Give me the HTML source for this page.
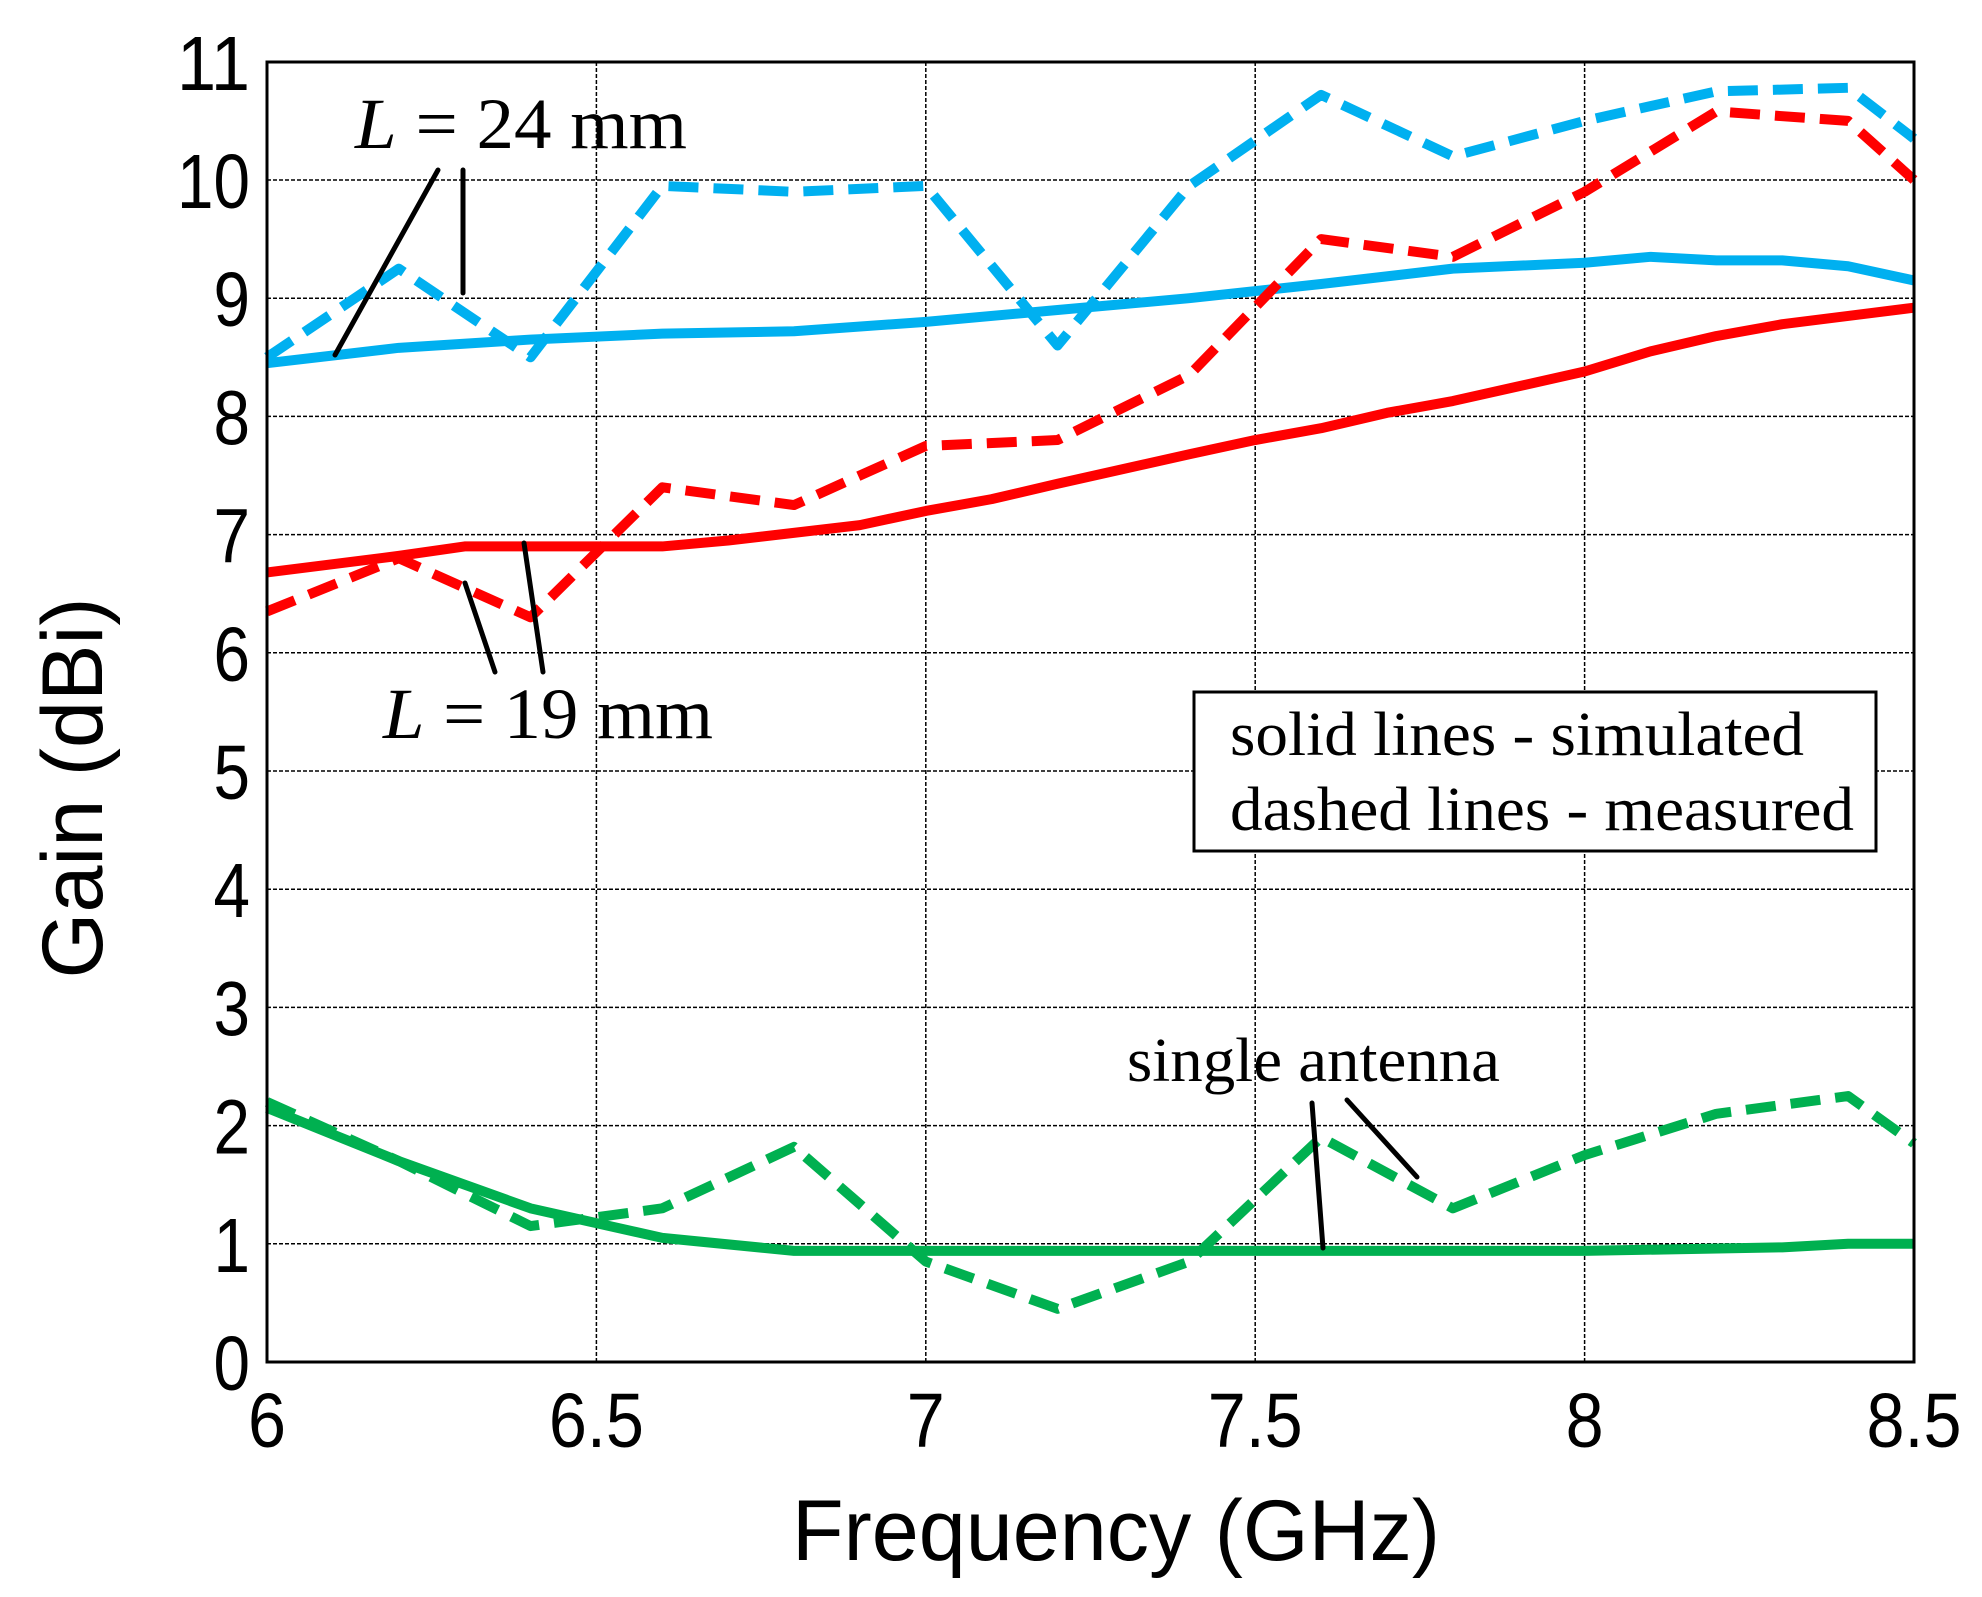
<!DOCTYPE html>
<html><head><meta charset="utf-8"><style>html,body{margin:0;padding:0;background:#fff}svg{display:block}</style></head>
<body>
<svg id="s" width="1982" height="1597" viewBox="0 0 1982 1597" xmlns="http://www.w3.org/2000/svg">
<rect width="1982" height="1597" fill="#fff"/>
<g id="grid" stroke="#000" stroke-width="1.5" stroke-dasharray="4,2"></g>
<g id="series" fill="none" stroke-linejoin="round"></g>
<rect x="267" y="62" width="1647" height="1300" fill="none" stroke="#000" stroke-width="3"/>
<g id="ticks" font-family="Liberation Sans, sans-serif" font-size="77" fill="#000"></g>
<text x="1116" y="1560" font-family="Liberation Sans, sans-serif" font-size="86" text-anchor="middle" textLength="648" lengthAdjust="spacingAndGlyphs">Frequency (GHz)</text>
<text transform="translate(102,788) rotate(-90)" font-family="Liberation Sans, sans-serif" font-size="86" text-anchor="middle" textLength="381" lengthAdjust="spacingAndGlyphs">Gain (dBi)</text>
<g font-family="Liberation Serif, serif" font-size="72" fill="#000">
<text x="355" y="148" textLength="332" lengthAdjust="spacingAndGlyphs"><tspan font-style="italic">L</tspan> = 24 mm</text>
<text x="383" y="738" textLength="330" lengthAdjust="spacingAndGlyphs"><tspan font-style="italic">L</tspan> = 19 mm</text>
<text x="1127" y="1081" font-size="62" textLength="373" lengthAdjust="spacingAndGlyphs">single antenna</text>
</g>
<rect x="1194" y="692" width="682" height="159" fill="#fff" stroke="#000" stroke-width="3"/>
<g font-family="Liberation Serif, serif" font-size="62">
<text x="1230" y="755" textLength="574" lengthAdjust="spacingAndGlyphs">solid lines - simulated</text>
<text x="1230" y="830" textLength="624" lengthAdjust="spacingAndGlyphs">dashed lines - measured</text>
</g>
<g stroke="#000" stroke-width="5" stroke-linecap="round">
<line x1="438" y1="170" x2="335" y2="355"/>
<line x1="463" y1="170" x2="463" y2="293"/>
<line x1="465" y1="583" x2="495" y2="672"/>
<line x1="524" y1="543" x2="543" y2="672"/>
<line x1="1312" y1="1103" x2="1323" y2="1248"/>
<line x1="1347" y1="1100" x2="1417" y2="1177"/>
</g>
</svg>
<script>
var X=function(f){return 267+(f-6)*658.8},Y=function(g){return 1362-g*118.2};
var ns="http://www.w3.org/2000/svg";
function el(p,t,a){var e=document.createElementNS(ns,t);for(var k in a)e.setAttribute(k,a[k]);p.appendChild(e);return e}
var grid=document.getElementById('grid'),tk=document.getElementById('ticks'),se=document.getElementById('series');
for(var g=1;g<=10;g++)el(grid,'line',{x1:267,x2:1914,y1:Y(g),y2:Y(g)});
for(var f=6.5;f<8.5;f+=0.5)el(grid,'line',{x1:X(f),x2:X(f),y1:62,y2:1362});
for(var g=0;g<=11;g++){var s=String(g);var t=el(tk,'text',{x:250,y:Y(g)+28,'text-anchor':'end',textLength:s.length*36.5,lengthAdjust:'spacingAndGlyphs'});t.textContent=s;}
['6','6.5','7','7.5','8','8.5'].forEach(function(s){var w=s.length==1?38:95;var t=el(tk,'text',{x:X(+s),y:1447,'text-anchor':'middle',textLength:w,lengthAdjust:'spacingAndGlyphs'});t.textContent=s;});
function S(d,c,dash){var p=d.map(function(q){return X(q[0])+','+Y(q[1])}).join(' ');var a={points:p,stroke:c,'stroke-width':10};if(dash)a['stroke-dasharray']='30,15';el(se,'polyline',a);}
S([[6,8.45],[6.2,8.58],[6.4,8.65],[6.6,8.7],[6.8,8.72],[7,8.8],[7.2,8.9],[7.4,9],[7.6,9.12],[7.8,9.25],[8,9.3],[8.1,9.35],[8.2,9.32],[8.3,9.32],[8.4,9.27],[8.5,9.15]],'#00B0F0');
S([[6,8.5],[6.2,9.25],[6.4,8.5],[6.6,9.95],[6.8,9.9],[7,9.95],[7.2,8.6],[7.4,9.95],[7.6,10.72],[7.8,10.2],[8,10.5],[8.2,10.75],[8.4,10.78],[8.5,10.35]],'#00B0F0',1);
S([[6,6.68],[6.2,6.82],[6.3,6.9],[6.6,6.9],[6.7,6.95],[6.9,7.08],[7,7.2],[7.1,7.3],[7.2,7.43],[7.4,7.68],[7.5,7.8],[7.6,7.9],[7.7,8.03],[7.8,8.13],[8,8.38],[8.1,8.55],[8.2,8.68],[8.3,8.78],[8.4,8.85],[8.5,8.92]],'#FF0000');
S([[6,6.35],[6.2,6.8],[6.4,6.3],[6.6,7.4],[6.8,7.25],[7,7.75],[7.2,7.8],[7.4,8.35],[7.6,9.5],[7.8,9.35],[8,9.9],[8.2,10.58],[8.4,10.5],[8.5,10]],'#FF0000',1);
S([[6,2.15],[6.2,1.7],[6.4,1.3],[6.6,1.05],[6.8,0.94],[7,0.94],[8,0.94],[8.3,0.97],[8.4,1],[8.5,1]],'#00B050');
S([[6,2.2],[6.2,1.7],[6.4,1.15],[6.6,1.3],[6.8,1.82],[7,0.85],[7.2,0.45],[7.4,0.85],[7.6,1.9],[7.8,1.3],[8,1.75],[8.2,2.1],[8.4,2.25],[8.5,1.85]],'#00B050',1);
</script>
</body></html>
